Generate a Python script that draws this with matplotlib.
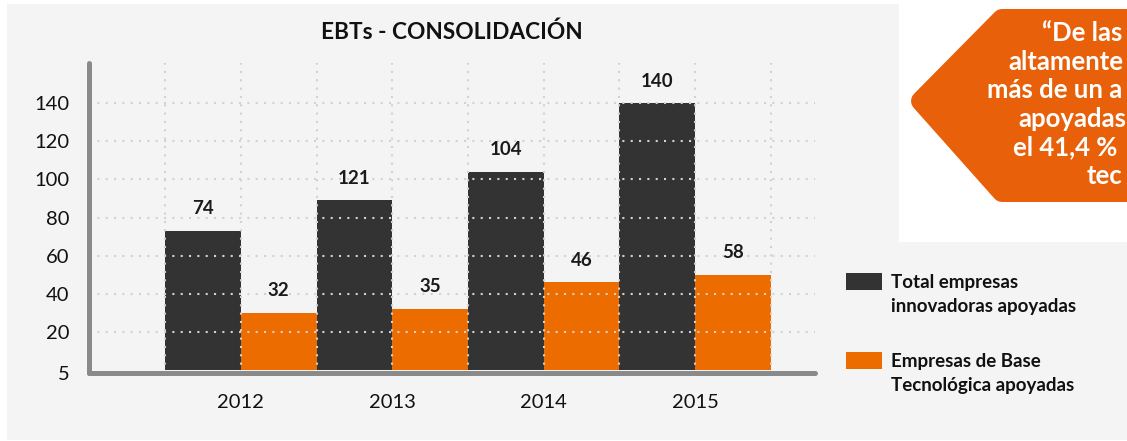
import matplotlib
matplotlib.use("Agg")
import matplotlib.pyplot as plt
import matplotlib.transforms as mtransforms
from matplotlib.patches import Rectangle, Polygon
import numpy as np

# ---------------- data ----------------
years = ["2012", "2013", "2014", "2015"]
total_heights = [73, 89, 104, 140]          # drawn bar heights (as in the picture)
total_labels = ["74", "121", "104", "140"]   # printed value labels
ebt_heights = [30, 32, 46, 50]
ebt_labels = ["32", "35", "46", "58"]
series_names = ["Total empresas\ninnovadoras apoyadas",
                "Empresas de Base\nTecnológica apoyadas"]
ytick_values = [-1.5, 20, 40, 60, 80, 100, 120, 140]
ytick_labels = ["5", "20", "40", "60", "80", "100", "120", "140"]
title = "EBTs - CONSOLIDACIÓN"
# the callout is cut by the right edge of the picture: only these parts show
callout_lines = ["“De las", "altamente", "más de un a", "apoyadas", "el 41,4 %", "tec"]

# ---------------- style ----------------
W, H, DPI = 1127, 441, 100
DARK = "#333333"
ORANGE = "#ec6c00"
PANEL = "#f4f4f4"
AXGRAY = "#8a8a8a"
GRID = "#d2d2d2"
FONT = "Lato"

fig = plt.figure(figsize=(W / DPI, H / DPI), dpi=DPI, facecolor="white")
px = mtransforms.Affine2D().scale(1 / W, -1 / H).translate(0, 1) + fig.transFigure

# background panels
fig.patches.append(Rectangle((7, 4), W - 7, 436, transform=px, facecolor=PANEL,
                             edgecolor="none", zorder=0))
fig.patches.append(Rectangle((899, 4), W - 899, 238, transform=px, facecolor="white",
                             edgecolor="none", zorder=0.5))
fig.patches.append(Polygon([(1002, 19), (921, 101), (1002, 192), (1160, 192), (1160, 19)],
                           closed=True, transform=px, facecolor="#e8610a",
                           edgecolor="#e8610a", linewidth=14.4, joinstyle="round",
                           zorder=0.6))
callout_x = [1042, 1008, 987, 1018, 1013, 1087]
for i, line in enumerate(callout_lines):
    fig.text(callout_x[i], 41 + i * 28.6, line, transform=px, color="white",
             fontsize=18.5, fontweight="bold", family=FONT, ha="left", va="baseline",
             zorder=1)

# axes
left, right, top, bottom = 89, 815, 63, 372.7
ax = fig.add_axes([left / W, 1 - bottom / H, (right - left) / W, (bottom - top) / H])
ax.set_facecolor("none")
ax.set_zorder(3)

centers = np.arange(len(years)) * 2.0
b1 = ax.bar(centers - 0.5, total_heights, width=1.0, color=DARK, zorder=1,
            label=series_names[0])
b2 = ax.bar(centers + 0.5, ebt_heights, width=1.0, color=ORANGE, zorder=1,
            label=series_names[1])

for bars, labs in ((b1, total_labels), (b2, ebt_labels)):
    for rect, lab in zip(bars, labs):
        ax.annotate(lab, (rect.get_x() + rect.get_width() / 2, rect.get_height()),
                    xytext=(0, 15.8), textcoords="offset points", ha="center",
                    va="center", fontsize=13.5, fontweight="bold", family=FONT,
                    color="#1a1a1a")

ax.set_xlim(-2.005, 7.583)
ax.set_ylim(-1.5, 161.2)

ax.set_yticks(ytick_values)
ax.set_yticklabels(ytick_labels)
ax.set_xticks(centers)
ax.set_xticklabels(years)
ax.set_xticks(np.arange(-1, 8), minor=True)
ax.xaxis.remove_overlapping_locs = False

ax.tick_params(axis="both", which="both", length=0)
ax.tick_params(axis="y", pad=14)
ax.tick_params(axis="x", pad=15.5)
for lab in ax.get_xticklabels() + ax.get_yticklabels():
    lab.set_fontsize(14.5)
    lab.set_family(FONT)
    lab.set_color("#111111")

ax.set_axisbelow(False)
ax.grid(False)
ax.yaxis.grid(True, which="major", color=GRID, linestyle=(0, (1, 3)), linewidth=1.5)
ax.xaxis.grid(True, which="minor", color=GRID, linestyle=(0, (1, 3)), linewidth=1.5)

for s in ("top", "right"):
    ax.spines[s].set_visible(False)
for s in ("left", "bottom"):
    ax.spines[s].set_color(AXGRAY)
    ax.spines[s].set_linewidth(3.6)
    ax.spines[s].set_capstyle("round")
    ax.spines[s].set_zorder(3)

ax.set_title(title, fontsize=16.3, fontweight="bold", family=FONT, color="#111111",
             x=(452 - left) / (right - left), y=1.0, pad=17.5)

# legend (drawn beside the plot)
leg_y = [273, 352]
for i, (name, col) in enumerate(zip(series_names, [DARK, ORANGE])):
    fig.patches.append(Rectangle((846, leg_y[i]), 36, 17, transform=px,
                                 facecolor=col, edgecolor="none", zorder=2))
    fig.text(891, leg_y[i] + 1, name, transform=px, fontsize=13.5,
             fontweight="bold", family=FONT, color="#111111", ha="left",
             va="top", linespacing=1.5, zorder=2)

fig.savefig("out.png", dpi=DPI, facecolor="white")
